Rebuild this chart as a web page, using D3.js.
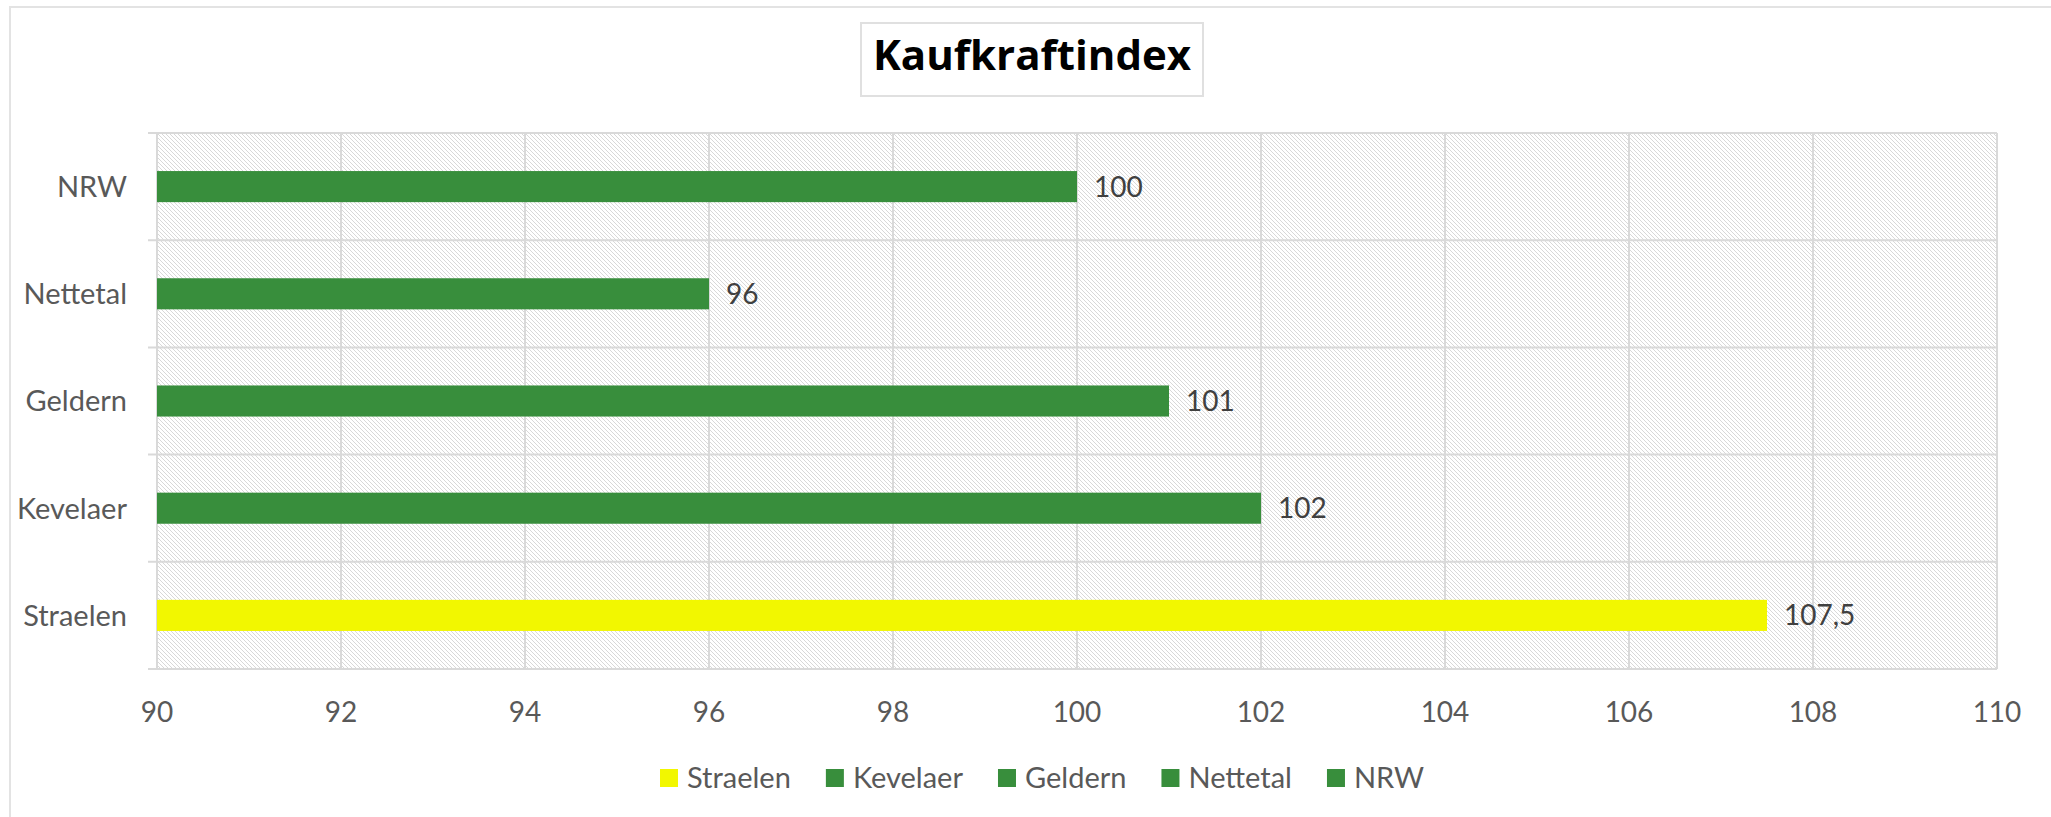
<!DOCTYPE html>
<html>
<head>
<meta charset="utf-8">
<script src="https://cdn.jsdelivr.net/npm/d3@7"></script>
<style>
  body { margin: 0; background: #fff; }
  svg { display: block; }
</style>
</head>
<body>
<svg id="chart"></svg>
<script>
// Data
const categories = ["Straelen", "Kevelaer", "Geldern", "Nettetal", "NRW"];
const values = [107.5, 102, 101, 96, 100];
const barColors = ["#f2f700", "#388e3c", "#388e3c", "#388e3c", "#388e3c"];
const xTicks = [90, 92, 94, 96, 98, 100, 102, 104, 106, 108, 110];
const titleText = "Kaufkraftindex";

const width = 2051, height = 817;
const plot = { left: 157, right: 1997, top: 133, bottom: 669 };

const svg = d3.select("#chart")
    .attr("width", width)
    .attr("height", height);

// hatched background like the excel plot area
const defs = svg.append("defs");
const pat = defs.append("pattern")
    .attr("id", "hatch")
    .attr("patternUnits", "userSpaceOnUse")
    .attr("width", 4)
    .attr("height", 4);
pat.append("path")
    .attr("d", "M0,0 L4,4 M-1,3 L1,5 M3,-1 L5,1")
    .attr("stroke", "#d8d8d8")
    .attr("stroke-width", 1);

// outer chart border
svg.append("rect")
    .attr("x", 10).attr("y", 7)
    .attr("width", 2100).attr("height", 900)
    .attr("fill", "none")
    .attr("stroke", "#e3e3e3")
    .attr("stroke-width", 2);

const x = d3.scaleLinear()
    .domain([90, 110])
    .range([plot.left, plot.right]);

// top to bottom: NRW ... Straelen
const y = d3.scaleBand()
    .domain(categories.slice().reverse())
    .range([plot.top, plot.bottom])
    .padding(0);

const barRatio = 0.29;

svg.append("rect")
    .attr("x", plot.left).attr("y", plot.top)
    .attr("width", plot.right - plot.left)
    .attr("height", plot.bottom - plot.top)
    .attr("fill", "url(#hatch)");

// vertical gridlines
svg.append("g")
    .selectAll("line")
    .data(xTicks)
    .join("line")
    .attr("x1", d => x(d)).attr("x2", d => x(d))
    .attr("y1", plot.top).attr("y2", plot.bottom)
    .attr("stroke", "#d9d9d9")
    .attr("stroke-width", 2);

// category boundaries with small ticks to the left
const bounds = y.domain().map(c => y(c)).concat([plot.bottom]);
svg.append("g")
    .selectAll("line")
    .data(bounds)
    .join("line")
    .attr("x1", plot.left - 9).attr("x2", plot.right)
    .attr("y1", d => d).attr("y2", d => d)
    .attr("stroke", "#d9d9d9")
    .attr("stroke-width", 2);

// bars
const rows = categories.map((c, i) => ({ cat: c, value: values[i], color: barColors[i] }));
const bh = y.bandwidth() * barRatio;

svg.append("g")
    .selectAll("rect")
    .data(rows)
    .join("rect")
    .attr("x", x(90))
    .attr("y", d => y(d.cat) + (y.bandwidth() - bh) / 2)
    .attr("width", d => x(d.value) - x(90))
    .attr("height", bh)
    .attr("fill", d => d.color);

// data labels (german decimal comma)
const de = d3.formatLocale({ decimal: ",", thousands: ".", grouping: [3], currency: ["", " €"] });
const fmt = v => Number.isInteger(v) ? String(v) : de.format(".1f")(v);

svg.append("g")
    .selectAll("text")
    .data(rows)
    .join("text")
    .attr("x", d => x(d.value) + 17)
    .attr("y", d => y(d.cat) + y.bandwidth() / 2)
    .attr("dy", "0.36em")
    .attr("font-family", "Lato, sans-serif")
    .attr("font-size", 28)
    .attr("fill", "#404040")
    .text(d => fmt(d.value));

// category labels
svg.append("g")
    .selectAll("text")
    .data(y.domain())
    .join("text")
    .attr("x", 127)
    .attr("y", d => y(d) + y.bandwidth() / 2)
    .attr("dy", "0.36em")
    .attr("text-anchor", "end")
    .attr("font-family", "Lato, sans-serif")
    .attr("font-size", 29)
    .attr("fill", "#595959")
    .text(d => d);

// x axis labels
svg.append("g")
    .selectAll("text")
    .data(xTicks)
    .join("text")
    .attr("x", d => x(d))
    .attr("y", 722)
    .attr("text-anchor", "middle")
    .attr("font-family", "Lato, sans-serif")
    .attr("font-size", 28)
    .attr("fill", "#595959")
    .text(d => d);

// title in a box
const title = svg.append("g");
title.append("rect")
    .attr("x", 861).attr("y", 23)
    .attr("width", 342).attr("height", 73)
    .attr("fill", "#fff")
    .attr("stroke", "#e0e0e0")
    .attr("stroke-width", 2);
title.append("text")
    .attr("x", 1032)
    .attr("y", 70)
    .attr("text-anchor", "middle")
    .attr("font-family", "'Open Sans', sans-serif")
    .attr("font-weight", 700)
    .attr("font-size", 42)
    .attr("fill", "#000")
    .text(titleText);

// legend
const legend = svg.append("g")
    .attr("transform", "translate(660, 778)");
let lx = 0;
rows.forEach(d => {
    const item = legend.append("g").attr("transform", `translate(${lx}, 0)`);
    item.append("rect")
        .attr("x", 0).attr("y", -9)
        .attr("width", 18).attr("height", 18)
        .attr("fill", d.color);
    const t = item.append("text")
        .attr("x", 27)
        .attr("y", 0)
        .attr("dy", "0.36em")
        .attr("font-family", "Lato, sans-serif")
        .attr("font-size", 29)
        .attr("fill", "#595959")
        .text(d.cat);
    lx += 27 + t.node().getComputedTextLength() + 35;
});
</script>
</body>
</html>
